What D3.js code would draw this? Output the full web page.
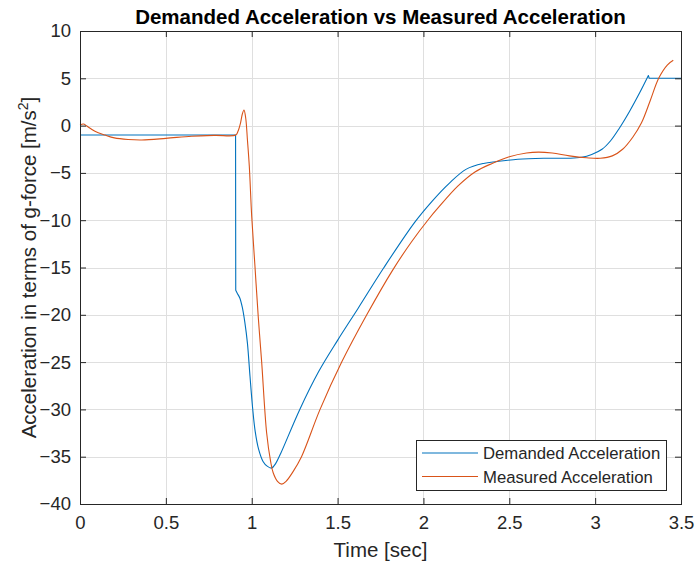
<!DOCTYPE html>
<html>
<head>
<meta charset="utf-8">
<script src="https://cdn.jsdelivr.net/npm/d3@7"></script>
<style>
  html, body { margin: 0; padding: 0; background: #fff; }
  text { font-family: "Liberation Sans", Arial, Helvetica, sans-serif; }
</style>
</head>
<body>
<svg id="chart" width="697" height="569"></svg>
<script>
// Time stamps and samples of the demanded acceleration trace
const demandedTime = [0, 0.3, 0.6, 0.906, 0.907, 0.915, 0.93, 0.945, 0.96, 0.975, 0.99, 1.005, 1.02,
  1.04, 1.066, 1.09, 1.116, 1.14, 1.17, 1.28, 1.39, 1.5, 1.62, 1.77, 1.95, 2.05, 2.15, 2.25, 2.35, 2.43,
  2.55, 2.7, 2.85, 2.92, 2.98, 3.04, 3.09, 3.14, 3.2, 3.26, 3.31, 3.315, 3.5];
const demandedValue = [-1.0, -1.0, -1.0, -1.0, -17.4, -17.7, -18.2, -19.2, -20.8, -23.0, -26.5, -29.8, -32.3,
  -34.2, -35.5, -36.0, -36.2, -35.7, -34.6, -30.0, -26.0, -22.7, -19.3, -15.0, -10.2, -8.0, -6.1, -4.6, -4.0, -3.8,
  -3.55, -3.45, -3.45, -3.35, -3.05, -2.5, -1.6, -0.3, 1.5, 3.5, 5.3, 5.0, 5.0];

// Time stamps and samples of the measured acceleration trace
const measuredTime = [0, 0.02, 0.04, 0.087, 0.146, 0.2, 0.28, 0.36, 0.5, 0.65, 0.786, 0.907, 0.92, 0.935,
  0.945, 0.955, 0.965, 0.975, 0.986, 1.0, 1.019, 1.038, 1.058, 1.087, 1.11, 1.125, 1.15, 1.175, 1.2, 1.24,
  1.29, 1.398, 1.524, 1.67, 1.82, 1.93, 2.03, 2.09, 2.2, 2.3, 2.4, 2.5, 2.6, 2.67, 2.75, 2.85, 2.95, 3.03,
  3.1, 3.16, 3.22, 3.27, 3.32, 3.37, 3.42, 3.455];
const measuredValue = [0.05, 0.17, -0.05, -0.6, -1.0, -1.3, -1.47, -1.52, -1.35, -1.12, -1.03, -1.0, -0.6, 0.3,
  1.2, 1.65, 0.8, -1.5, -4.3, -9.6, -14.9, -20.2, -25.0, -32.5, -35.5, -36.7, -37.6, -37.9, -37.6, -36.6,
  -35.0, -30.0, -25.0, -20.0, -15.3, -12.3, -9.9, -8.6, -6.4, -4.9, -4.0, -3.3, -2.9, -2.8, -2.9, -3.2, -3.4, -3.45,
  -3.2, -2.5, -1.2, 0.3, 2.6, 5.0, 6.4, 6.9];

const xTicks = [0, 0.5, 1, 1.5, 2, 2.5, 3, 3.5];
const yTicks = [-40, -35, -30, -25, -20, -15, -10, -5, 0, 5, 10];
const seriesNames = ["Demanded Acceleration", "Measured Acceleration"];
const seriesColors = ["#0072BD", "#D95319"];

const svg = d3.select("#chart");
const plot = { left: 80, right: 681, top: 31, bottom: 504 };
const axisColor = "#262626";

const x = d3.scaleLinear().domain([0, 3.5]).range([plot.left, plot.right]);
const y = d3.scaleLinear().domain([-40, 10]).range([plot.bottom, plot.top]);

// grid
const grid = svg.append("g").attr("stroke", "#dfdfdf").attr("stroke-width", 1);
xTicks.slice(1, -1).forEach(t => {
  grid.append("line").attr("x1", Math.round(x(t)) + 0.5).attr("x2", Math.round(x(t)) + 0.5)
    .attr("y1", plot.top).attr("y2", plot.bottom);
});
yTicks.slice(1, -1).forEach(t => {
  grid.append("line").attr("y1", Math.round(y(t)) + 0.5).attr("y2", Math.round(y(t)) + 0.5)
    .attr("x1", plot.left).attr("x2", plot.right);
});

// series: the demanded trace has hard steps (at ~0.907 s and ~3.31 s), drawn as
// straight pieces, with the smooth part in between
const demanded = demandedTime.map((t, i) => [t, demandedValue[i]]);
const measured = measuredTime.map((t, i) => [t, measuredValue[i]]);
const smooth = d3.line().x(d => x(d[0])).y(d => y(d[1])).curve(d3.curveCatmullRom.alpha(0.5));
const straight = d3.line().x(d => x(d[0])).y(d => y(d[1]));

const stepA = demandedTime.indexOf(0.907);
const stepB = demandedTime.indexOf(3.31);
const demandedPath = straight(demanded.slice(0, stepA + 1)) +
  smooth(demanded.slice(stepA, stepB + 1)).replace(/^M/, "L") +
  straight(demanded.slice(stepB)).replace(/^M/, "L");

svg.append("path").attr("d", demandedPath)
  .attr("fill", "none").attr("stroke", seriesColors[0]).attr("stroke-width", 1.1)
  .attr("stroke-linejoin", "round");
svg.append("path").datum(measured).attr("d", smooth)
  .attr("fill", "none").attr("stroke", seriesColors[1]).attr("stroke-width", 1.1);

// axes with inward ticks on all four sides
const tickLen = 6;
function styleAxis(g) {
  g.selectAll(".domain").remove();
  g.selectAll(".tick line").attr("stroke", axisColor);
  g.selectAll(".tick text").attr("fill", axisColor).attr("font-size", 18.5);
}
svg.append("g").attr("transform", `translate(0,${plot.bottom})`)
  .call(d3.axisBottom(x).tickValues(xTicks).tickFormat(d3.format("")).tickSizeInner(-tickLen).tickPadding(12))
  .call(styleAxis);
svg.append("g").attr("transform", `translate(${plot.left},0)`)
  .call(d3.axisLeft(y).tickValues(yTicks).tickFormat(d3.format("")).tickSizeInner(-tickLen).tickPadding(9))
  .call(styleAxis);
svg.append("g").attr("transform", `translate(0,${plot.top})`)
  .call(d3.axisTop(x).tickValues(xTicks).tickFormat("").tickSizeInner(-tickLen))
  .call(styleAxis);
svg.append("g").attr("transform", `translate(${plot.right},0)`)
  .call(d3.axisRight(y).tickValues(yTicks).tickFormat("").tickSizeInner(-tickLen))
  .call(styleAxis);

svg.append("rect").attr("x", plot.left + 0.5).attr("y", plot.top + 0.5)
  .attr("width", plot.right - plot.left).attr("height", plot.bottom - plot.top)
  .attr("fill", "none").attr("stroke", axisColor).attr("stroke-width", 1);

// title and axis labels
svg.append("text").attr("x", (plot.left + plot.right) / 2).attr("y", 24)
  .attr("text-anchor", "middle").attr("font-size", 20.5).attr("font-weight", "bold").attr("fill", "#000")
  .text("Demanded Acceleration vs Measured Acceleration");

svg.append("text").attr("x", (plot.left + plot.right) / 2).attr("y", 557)
  .attr("text-anchor", "middle").attr("font-size", 20.5).attr("fill", axisColor)
  .text("Time [sec]");

const yl = svg.append("text")
  .attr("transform", `translate(36,${(plot.top + plot.bottom) / 2}) rotate(-90)`)
  .attr("text-anchor", "middle").attr("font-size", 20.5).attr("fill", axisColor);
yl.append("tspan").text("Acceleration in terms of g-force [m/s");
yl.append("tspan").attr("font-size", 14).attr("dy", -8).text("2");
yl.append("tspan").attr("dy", 8).text("]");

// legend
const lg = svg.append("g").attr("transform", "translate(416,440)");
lg.append("rect").attr("x", 0.5).attr("y", 0.5).attr("width", 250).attr("height", 50)
  .attr("fill", "#fff").attr("stroke", axisColor).attr("stroke-width", 1);
seriesNames.forEach((name, i) => {
  const ly = 13 + i * 23.5;
  lg.append("line").attr("x1", 6).attr("x2", 62).attr("y1", ly).attr("y2", ly)
    .attr("stroke", seriesColors[i]).attr("stroke-width", 1.1);
  lg.append("text").attr("x", 67).attr("y", ly + 6).attr("font-size", 16.7).attr("fill", axisColor).text(name);
});
</script>
</body>
</html>
